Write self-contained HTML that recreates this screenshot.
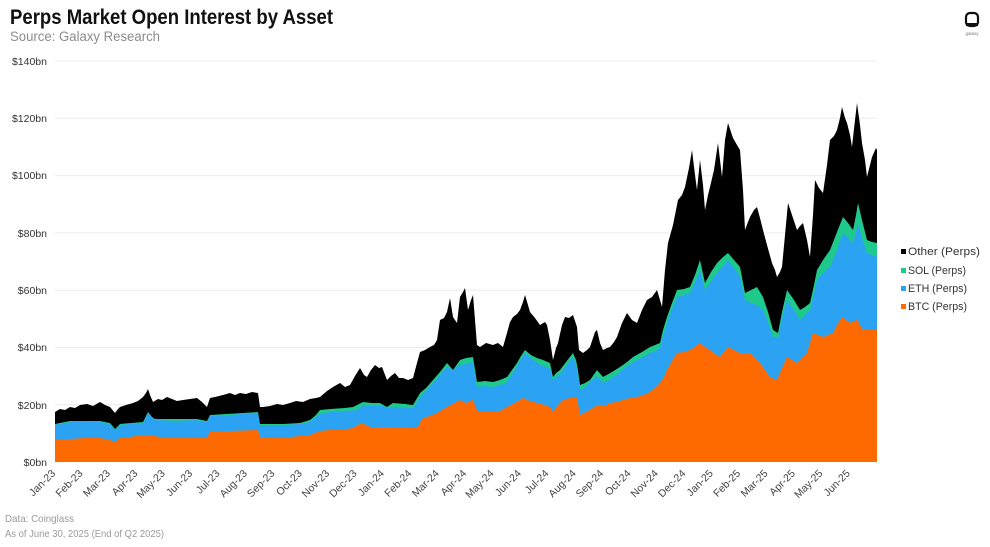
<!DOCTYPE html>
<html><head><meta charset="utf-8"><style>
html,body{margin:0;padding:0;background:#fff;}
svg{display:block;}
text{font-family:"Liberation Sans",sans-serif;}
</style></head><body>
<svg width="990" height="547" viewBox="0 0 990 547" xmlns="http://www.w3.org/2000/svg">
<rect width="990" height="547" fill="#fff"/>
<text x="10" y="24" font-size="21" font-weight="bold" fill="#111" textLength="323" lengthAdjust="spacingAndGlyphs">Perps Market Open Interest by Asset</text>
<text x="10" y="41" font-size="13.5" fill="#8c8c8c" textLength="150" lengthAdjust="spacingAndGlyphs">Source: Galaxy Research</text>
<!-- logo -->
<rect x="966" y="13" width="12" height="13" rx="4" ry="4" fill="none" stroke="#111" stroke-width="2.2"/>
<rect x="966" y="23" width="12" height="3" fill="#111"/>
<text x="972" y="35" font-size="4.5" fill="#777" text-anchor="middle">galaxy</text>
<!-- gridlines -->
<g stroke="#ececec" stroke-width="1">
<line x1="55" y1="61" x2="877" y2="61"/>
<line x1="55" y1="118.3" x2="877" y2="118.3"/>
<line x1="55" y1="175.6" x2="877" y2="175.6"/>
<line x1="55" y1="232.9" x2="877" y2="232.9"/>
<line x1="55" y1="290.2" x2="877" y2="290.2"/>
<line x1="55" y1="347.5" x2="877" y2="347.5"/>
<line x1="55" y1="404.8" x2="877" y2="404.8"/>
</g>
<g font-size="10.5" fill="#333" text-anchor="end">
<text x="47" y="65">$140bn</text>
<text x="47" y="122">$120bn</text>
<text x="47" y="179">$100bn</text>
<text x="47" y="237">$80bn</text>
<text x="47" y="294">$60bn</text>
<text x="47" y="351">$40bn</text>
<text x="47" y="409">$20bn</text>
<text x="47" y="466">$0bn</text>
</g>
<!-- Other (black) -->
<polygon fill="#000" points="55,462 55,412 60,409 65,410 70,407 75,408 80,405 87,404 93,406 100,402 105,405 110,407 115,413 118,409 120,407 126,405 133,403 138,401 143,397 146,393 148,389 150,395 153,402 158,399 162,400 167,397 172,399 177,401 183,400 190,399 197,398 202,402 207,407 210,398 215,397 223,395 230,393 235,395 240,393 246,394 252,392 258,393 260,407 263,407 270,406 277,404 283,405 290,403 296,401 303,402 310,399 316,398 320,397 327,391 333,387 340,383 345,387 350,385 355,376 360,368 364,375 367,377 371,370 375,365 379,368 382,367 387,380 391,376 395,373 399,378 403,378 408,380 413,378 417,363 420,352 425,350 430,347 434,345 437,340 440,320 444,318 447,312 450,298 453,317 457,323 460,297 463,292 465,288 468,310 471,300 473,295 475,320 477,345 480,347 486,343 493,345 498,343 503,347 507,333 510,322 513,317 517,314 520,310 523,302 525,295 528,305 530,312 535,318 540,325 545,322 547,325 550,340 553,360 556,348 558,343 562,325 565,317 569,318 573,315 577,327 579,350 583,353 587,350 590,347 595,332 597,330 600,343 603,350 607,348 610,347 614,342 617,337 622,323 627,313 632,320 637,323 642,310 647,300 652,297 657,290 660,300 662,307 665,270 668,243 673,225 678,200 682,195 685,187 689,168 692,150 695,175 697,190 700,160 703,185 705,210 708,195 710,187 714,170 718,143 720,160 722,177 725,140 728,123 731,132 733,138 737,145 740,150 743,190 745,230 748,222 750,217 754,210 757,207 760,218 763,230 767,245 772,263 775,270 777,277 780,272 782,267 785,235 788,203 792,215 797,230 800,226 803,223 807,240 810,257 813,215 815,180 819,188 823,193 827,165 830,140 834,136 837,130 840,118 842,107 845,118 847,123 850,135 852,147 855,120 857,103 860,125 862,143 865,160 867,177 870,165 872,157 876,148 877,150 877,462"/>
<!-- SOL (green) -->
<polygon fill="#1fc98c" points="55,462 55,424 70,421 100,421 110,423 115,429 120,424 143,422 146,416 148,412 152,417 155,419 197,419 207,421 210,415 258,412 260,424 283,424 300,423 310,420 316,415 320,410 330,409 345,408 353,407 363,402 372,403 380,403 387,407 393,403 405,404 413,405 420,393 426,388 433,380 440,372 447,363 453,370 460,360 466,358 473,357 477,382 485,381 493,382 500,380 507,377 512,370 517,363 521,356 525,350 531,355 537,358 543,360 550,363 553,377 556,373 560,370 566,362 573,353 576,360 578,370 580,385 585,383 590,380 597,370 603,377 612,372 620,367 627,362 633,357 642,352 650,347 655,345 660,343 663,330 667,317 672,303 677,290 684,289 690,287 695,275 700,260 705,283 711,272 717,263 723,257 728,253 734,260 740,267 745,293 751,290 757,287 763,297 768,312 773,330 778,333 782,312 787,290 794,300 800,310 805,307 810,303 814,285 817,270 823,260 830,250 837,232 843,217 848,223 853,230 856,215 858,203 862,220 867,240 872,242 877,243 877,462"/>
<!-- ETH (blue) -->
<polygon fill="#2ba3f2" points="55,462 55,425 70,422 85,421 100,422 110,424 115,430 120,425 130,424 143,423 146,417 148,413 152,418 155,420 175,421 197,420 207,422 210,416 230,415 258,413 260,425 283,425 300,424 310,422 316,417 320,414 330,412 345,411 357,410 363,405 372,406 383,406 387,408 395,407 413,408 420,397 426,391 433,383 440,375 447,367 453,370 460,365 466,364 473,362 477,387 485,386 493,387 500,385 507,382 512,374 517,366 521,359 525,353 531,358 537,363 543,366 550,368 553,380 556,377 560,374 566,366 573,357 576,365 578,375 580,390 585,387 590,382 597,376 603,383 612,378 620,372 627,366 635,361 643,357 650,353 655,351 660,348 663,336 667,323 672,309 677,297 684,295 690,293 695,282 700,270 705,290 711,281 717,273 723,266 728,260 734,268 740,277 745,300 751,303 757,305 763,310 768,322 773,337 778,338 782,318 787,300 794,310 800,320 805,315 810,310 814,294 817,280 823,273 830,267 837,250 843,233 848,238 853,243 856,232 858,223 862,238 867,253 872,255 877,257 877,462"/>
<!-- BTC (orange) -->
<polygon fill="#ff6a00" points="55,462 55,440 70,439 85,438 100,438 110,440 115,442 120,438 130,437 143,435 150,435 160,437 180,437 207,438 210,432 230,431 258,430 260,438 283,438 300,436 310,435 320,431 330,430 340,430 353,428 358,425 362,423 366,425 370,427 390,427 410,428 417,428 420,423 423,418 430,416 437,413 442,410 447,407 453,404 460,400 463,402 467,403 470,401 473,400 476,408 478,412 488,412 497,412 502,410 507,407 515,403 523,398 530,401 537,403 545,405 550,407 553,412 558,405 563,400 570,398 577,397 580,415 586,412 593,408 597,405 600,405 605,406 610,403 617,402 623,400 630,398 637,397 643,395 650,392 655,388 660,383 664,377 667,370 672,361 677,353 684,352 690,350 695,347 700,343 705,347 710,350 715,354 720,357 724,352 728,347 734,350 740,353 745,353 750,353 755,358 760,363 765,370 770,377 774,379 777,380 782,368 787,357 792,360 797,363 802,358 807,353 810,343 813,333 818,335 823,337 828,335 833,333 837,325 842,317 846,320 850,323 854,321 857,320 860,325 863,330 870,330 876,330 877,330 877,462"/>
<!-- x labels -->
<g font-size="10.5" fill="#444" text-anchor="end">
<text transform="translate(56,474) rotate(-45)">Jan-23</text>
<text transform="translate(83.4,474) rotate(-45)">Feb-23</text>
<text transform="translate(110.8,474) rotate(-45)">Mar-23</text>
<text transform="translate(138.2,474) rotate(-45)">Apr-23</text>
<text transform="translate(165.6,474) rotate(-45)">May-23</text>
<text transform="translate(193,474) rotate(-45)">Jun-23</text>
<text transform="translate(220.4,474) rotate(-45)">Jul-23</text>
<text transform="translate(247.8,474) rotate(-45)">Aug-23</text>
<text transform="translate(275.2,474) rotate(-45)">Sep-23</text>
<text transform="translate(302.6,474) rotate(-45)">Oct-23</text>
<text transform="translate(330,474) rotate(-45)">Nov-23</text>
<text transform="translate(357.4,474) rotate(-45)">Dec-23</text>
<text transform="translate(384.8,474) rotate(-45)">Jan-24</text>
<text transform="translate(412.2,474) rotate(-45)">Feb-24</text>
<text transform="translate(439.6,474) rotate(-45)">Mar-24</text>
<text transform="translate(467,474) rotate(-45)">Apr-24</text>
<text transform="translate(494.4,474) rotate(-45)">May-24</text>
<text transform="translate(521.8,474) rotate(-45)">Jun-24</text>
<text transform="translate(549.2,474) rotate(-45)">Jul-24</text>
<text transform="translate(576.6,474) rotate(-45)">Aug-24</text>
<text transform="translate(604,474) rotate(-45)">Sep-24</text>
<text transform="translate(631.4,474) rotate(-45)">Oct-24</text>
<text transform="translate(658.8,474) rotate(-45)">Nov-24</text>
<text transform="translate(686.2,474) rotate(-45)">Dec-24</text>
<text transform="translate(713.6,474) rotate(-45)">Jan-25</text>
<text transform="translate(741,474) rotate(-45)">Feb-25</text>
<text transform="translate(768.4,474) rotate(-45)">Mar-25</text>
<text transform="translate(795.8,474) rotate(-45)">Apr-25</text>
<text transform="translate(823.2,474) rotate(-45)">May-25</text>
<text transform="translate(850.6,474) rotate(-45)">Jun-25</text>
</g>
<!-- legend -->
<rect x="901" y="249" width="5" height="5" fill="#000"/>
<rect x="901" y="268" width="5" height="5" fill="#1fc98c"/>
<rect x="901" y="286" width="5" height="5" fill="#2ba3f2"/>
<rect x="901" y="304" width="5" height="5" fill="#ff6a00"/>
<g font-size="11" fill="#333">
<text x="908" y="255" textLength="72" lengthAdjust="spacingAndGlyphs">Other (Perps)</text>
<text x="908" y="274" textLength="58" lengthAdjust="spacingAndGlyphs">SOL (Perps)</text>
<text x="908" y="292" textLength="59" lengthAdjust="spacingAndGlyphs">ETH (Perps)</text>
<text x="908" y="310" textLength="59" lengthAdjust="spacingAndGlyphs">BTC (Perps)</text>
</g>
<!-- footer -->
<g font-size="10.5" fill="#9a9a9a">
<text x="5" y="522" textLength="69" lengthAdjust="spacingAndGlyphs">Data: Coinglass</text>
<text x="5" y="537" textLength="159" lengthAdjust="spacingAndGlyphs">As of June 30, 2025 (End of Q2 2025)</text>
</g>
</svg>
</body></html>
